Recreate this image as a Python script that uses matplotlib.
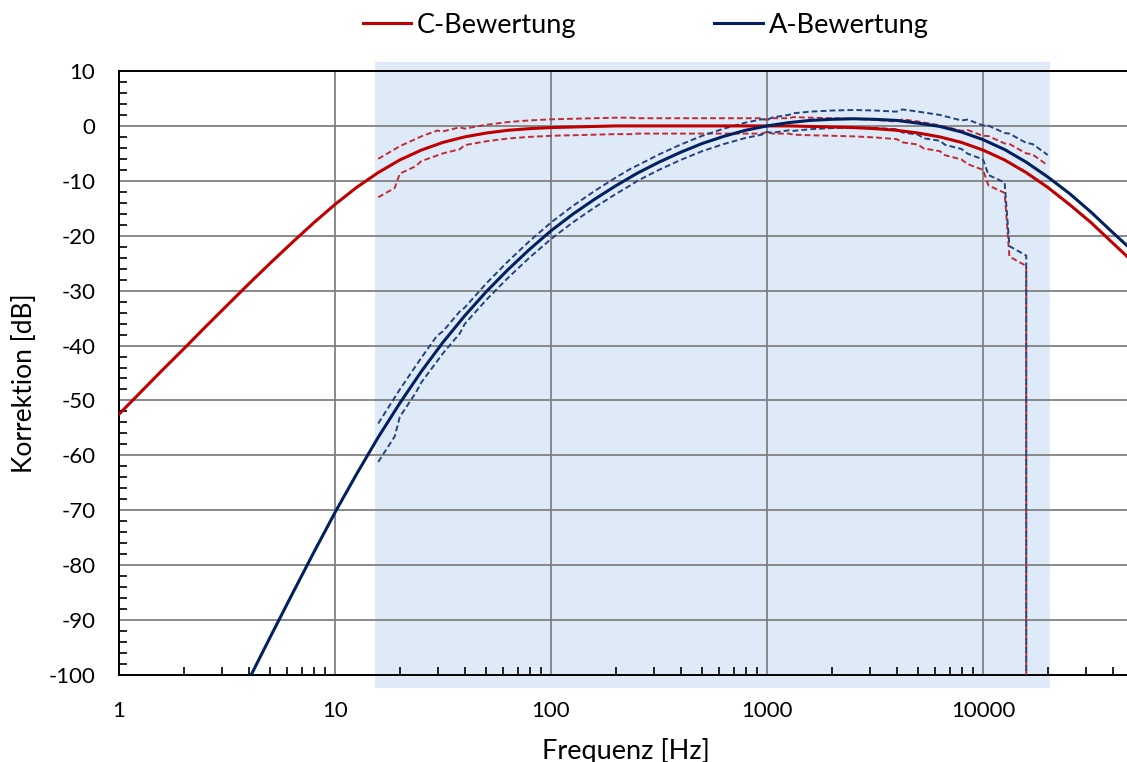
import numpy as np
import matplotlib
matplotlib.use('Agg')
import matplotlib.pyplot as plt
from matplotlib.ticker import FixedLocator, NullFormatter, MultipleLocator

plt.rcParams['font.family'] = ['Lato', 'DejaVu Sans']
plt.rcParams['axes.unicode_minus'] = False

# Terzfrequenzen (exakt) und Bewertungskurven (dB)
freq = [1, 1.259, 1.585, 1.995, 2.512, 3.162, 3.981, 5.012, 6.31, 7.943, 10, 12.59, 15.85,
        19.95, 25.12, 31.62, 39.81, 50.12, 63.1, 79.43, 100, 125.9, 158.5, 199.5, 251.2, 316.2,
        398.1, 501.2, 631, 794.3, 1000, 1259, 1585, 1995, 2512, 3162, 3981, 5012, 6310, 7943,
        10000, 12590, 15850, 19950, 25120, 31620, 39810, 50120]
a_weight = [-148.6, -140.6, -132.6, -124.6, -116.6, -108.7, -100.9, -93.1, -85.4, -77.8, -70.4,
            -63.4, -56.7, -50.5, -44.7, -39.4, -34.6, -30.2, -26.2, -22.5, -19.1, -16.1, -13.4,
            -10.9, -8.6, -6.6, -4.8, -3.2, -1.9, -0.8, 0.0, 0.6, 1.0, 1.2, 1.3, 1.2, 1.0, 0.5,
            -0.1, -1.1, -2.5, -4.3, -6.6, -9.3, -12.3, -15.7, -19.4, -23.0]
c_weight = [-52.5, -48.5, -44.5, -40.6, -36.6, -32.7, -28.8, -25.0, -21.3, -17.7, -14.3, -11.2,
            -8.5, -6.2, -4.4, -3.0, -2.0, -1.3, -0.8, -0.5, -0.3, -0.2, -0.1, 0.0, 0.0, 0.0,
            0.0, 0.0, 0.0, 0.0, 0.0, 0.0, -0.1, -0.2, -0.3, -0.5, -0.8, -1.3, -2.0, -3.0, -4.4,
            -6.2, -8.5, -11.2, -14.3, -17.6, -21.3, -25.0]

# Toleranzgrenzen (obere)
upper_freq = [15.85, 19.95, 25.12, 29.7, 31.62, 37.8, 39.81, 50.12, 63.1, 79.43, 100, 125.9,
              158.5, 199.5, 236, 251.2, 316.2, 398.1, 501.2, 631, 794.3, 944, 1000, 1060, 1259,
              1325, 1585, 1995, 2512, 3162, 3981, 4240, 5012, 6310, 7943, 8480, 10000, 10600,
              12590, 13250, 15850, 16960, 19950]
a_upper = [-54.2, -48.0, -42.2, -38.2, -37.4, -33.8, -33.1, -28.7, -24.7, -21.0, -17.6, -14.6,
           -11.9, -9.4, -7.7, -7.2, -5.2, -3.4, -1.8, -0.5, 0.6, 1.2, 1.1, 1.55, 2.0, 2.3, 2.6,
           2.8, 2.9, 2.8, 2.6, 3.0, 2.6, 2.0, 1.0, 1.15, 0.1, 0.05, -1.3, -1.4, -3.1, -3.3, -5.3]
c_upper = [-6.0, -3.7, -1.9, -0.85, -1.0, -0.25, -0.5, 0.2, 0.7, 1.0, 1.2, 1.3, 1.4, 1.5, 1.5,
           1.4, 1.4, 1.4, 1.4, 1.4, 1.4, 1.4, 1.1, 1.4, 1.4, 1.6, 1.5, 1.4, 1.3, 1.1, 0.8, 1.2,
           0.8, 0.1, -0.9, -0.75, -1.8, -1.85, -3.2, -3.3, -5.0, -5.2, -7.2]

# Toleranzgrenzen (untere)
lower_freq = [15.85, 18.9, 19.95, 23.6, 25.12, 31.62, 37.8, 39.81, 50.12, 63.1, 79.43, 100,
              125.9, 158.5, 199.5, 236, 251.2, 316.2, 398.1, 501.2, 631, 794.3, 944, 1000, 1060,
              1259, 1325, 1585, 1995, 2512, 3162, 3981, 4240, 5012, 5300, 6310, 6680, 7943,
              8480, 10000, 10600, 12590, 13250, 15850, 15850]
a_lower = [-61.2, -56.55, -53.0, -48.65, -46.7, -41.4, -37.8, -36.1, -31.7, -27.7, -24.0, -20.6,
           -17.6, -14.9, -12.4, -10.7, -10.0, -8.0, -6.2, -4.6, -3.3, -2.2, -1.6, -1.1, -1.25,
           -0.8, -0.9, -0.6, -0.4, -0.3, -0.4, -0.6, -1.2, -1.6, -2.25, -2.7, -3.45, -4.2, -5.05,
           -6.1, -8.95, -10.3, -21.9, -23.6, -150]
c_lower = [-13.0, -11.3, -8.7, -7.35, -6.4, -5.0, -4.25, -3.5, -2.8, -2.3, -2.0, -1.8, -1.7,
           -1.6, -1.5, -1.5, -1.4, -1.4, -1.4, -1.4, -1.4, -1.4, -1.4, -1.1, -1.4, -1.4, -1.6,
           -1.7, -1.8, -1.9, -2.1, -2.4, -3.0, -3.4, -4.1, -4.6, -5.35, -6.1, -6.95, -8.0,
           -10.85, -12.2, -23.8, -25.5, -150]

band_range = (15.3, 20500)

red = '#C00000'
blue = '#002060'
red_dash = '#C42A33'
blue_dash = '#23437E'
grid_col = '#808080'

fig = plt.figure(figsize=(11.27, 7.62), dpi=100)
ax = fig.add_axes([119 / 1127, 87 / 762, 1015 / 1127, 604 / 762])

ax.axvspan(band_range[0], band_range[1], ymin=-0.0215, ymax=1.015, color='#DEEAF7',
           lw=0, zorder=0, clip_on=False)

ax.set_xscale('log')
ax.set_xlim(1, 50000)
ax.set_ylim(-100, 10)

ax.grid(True, which='major', color=grid_col, lw=1.3, zorder=1)
ax.set_axisbelow(True)

dash = (3, 1.6)
ax.plot(upper_freq, c_upper, color=red_dash, lw=1.4, dashes=dash, zorder=3)
ax.plot(lower_freq, c_lower, color=red_dash, lw=1.4, dashes=dash, zorder=3)
ax.plot(upper_freq, a_upper, color=blue_dash, lw=1.4, dashes=dash, zorder=3)
ax.plot(lower_freq, a_lower, color=blue_dash, lw=1.4, dashes=dash, zorder=3)

line_c, = ax.plot(freq, c_weight, color=red, lw=2.2, zorder=4, label='C-Bewertung')
line_a, = ax.plot(freq, a_weight, color=blue, lw=2.2, zorder=4, label='A-Bewertung')

# Achsen und Ticks
ax.xaxis.set_major_locator(FixedLocator([1, 10, 100, 1000, 10000]))
ax.set_xticklabels(['1', '10', '100', '1000', '10000'])
minors = [m * 10 ** e for e in range(0, 5) for m in range(2, 10)]
ax.xaxis.set_minor_locator(FixedLocator(minors))
ax.xaxis.set_minor_formatter(NullFormatter())
ax.yaxis.set_major_locator(MultipleLocator(10))
ax.yaxis.set_minor_locator(MultipleLocator(2))

ax.tick_params(axis='both', which='major', length=0, labelsize=16, labelcolor='black')
ax.tick_params(axis='x', which='major', pad=19)
ax.tick_params(axis='y', which='major', pad=17)
ax.tick_params(axis='both', which='minor', direction='in', length=6, width=1.2, color='black')

for side in ['left', 'bottom', 'top']:
    ax.spines[side].set_color('black')
    ax.spines[side].set_linewidth(1.4)
ax.spines['right'].set_visible(False)

fig.text(25 / 1127, 1 - 383 / 762, 'Korrektion [dB]', rotation=90, ha='center', va='center',
         fontsize=19)
fig.text(626 / 1127, 1 - 751 / 762, 'Frequenz [Hz]', ha='center', va='center', fontsize=19.5)

fig.legend(handles=[line_c, line_a], loc='center', bbox_to_anchor=(645.5 / 1127, 1 - 25 / 762),
           ncol=2, frameon=False, fontsize=19.5, handlelength=1.8, handletextpad=0.2,
           columnspacing=5.1)

fig.savefig('out.png', dpi=100)
